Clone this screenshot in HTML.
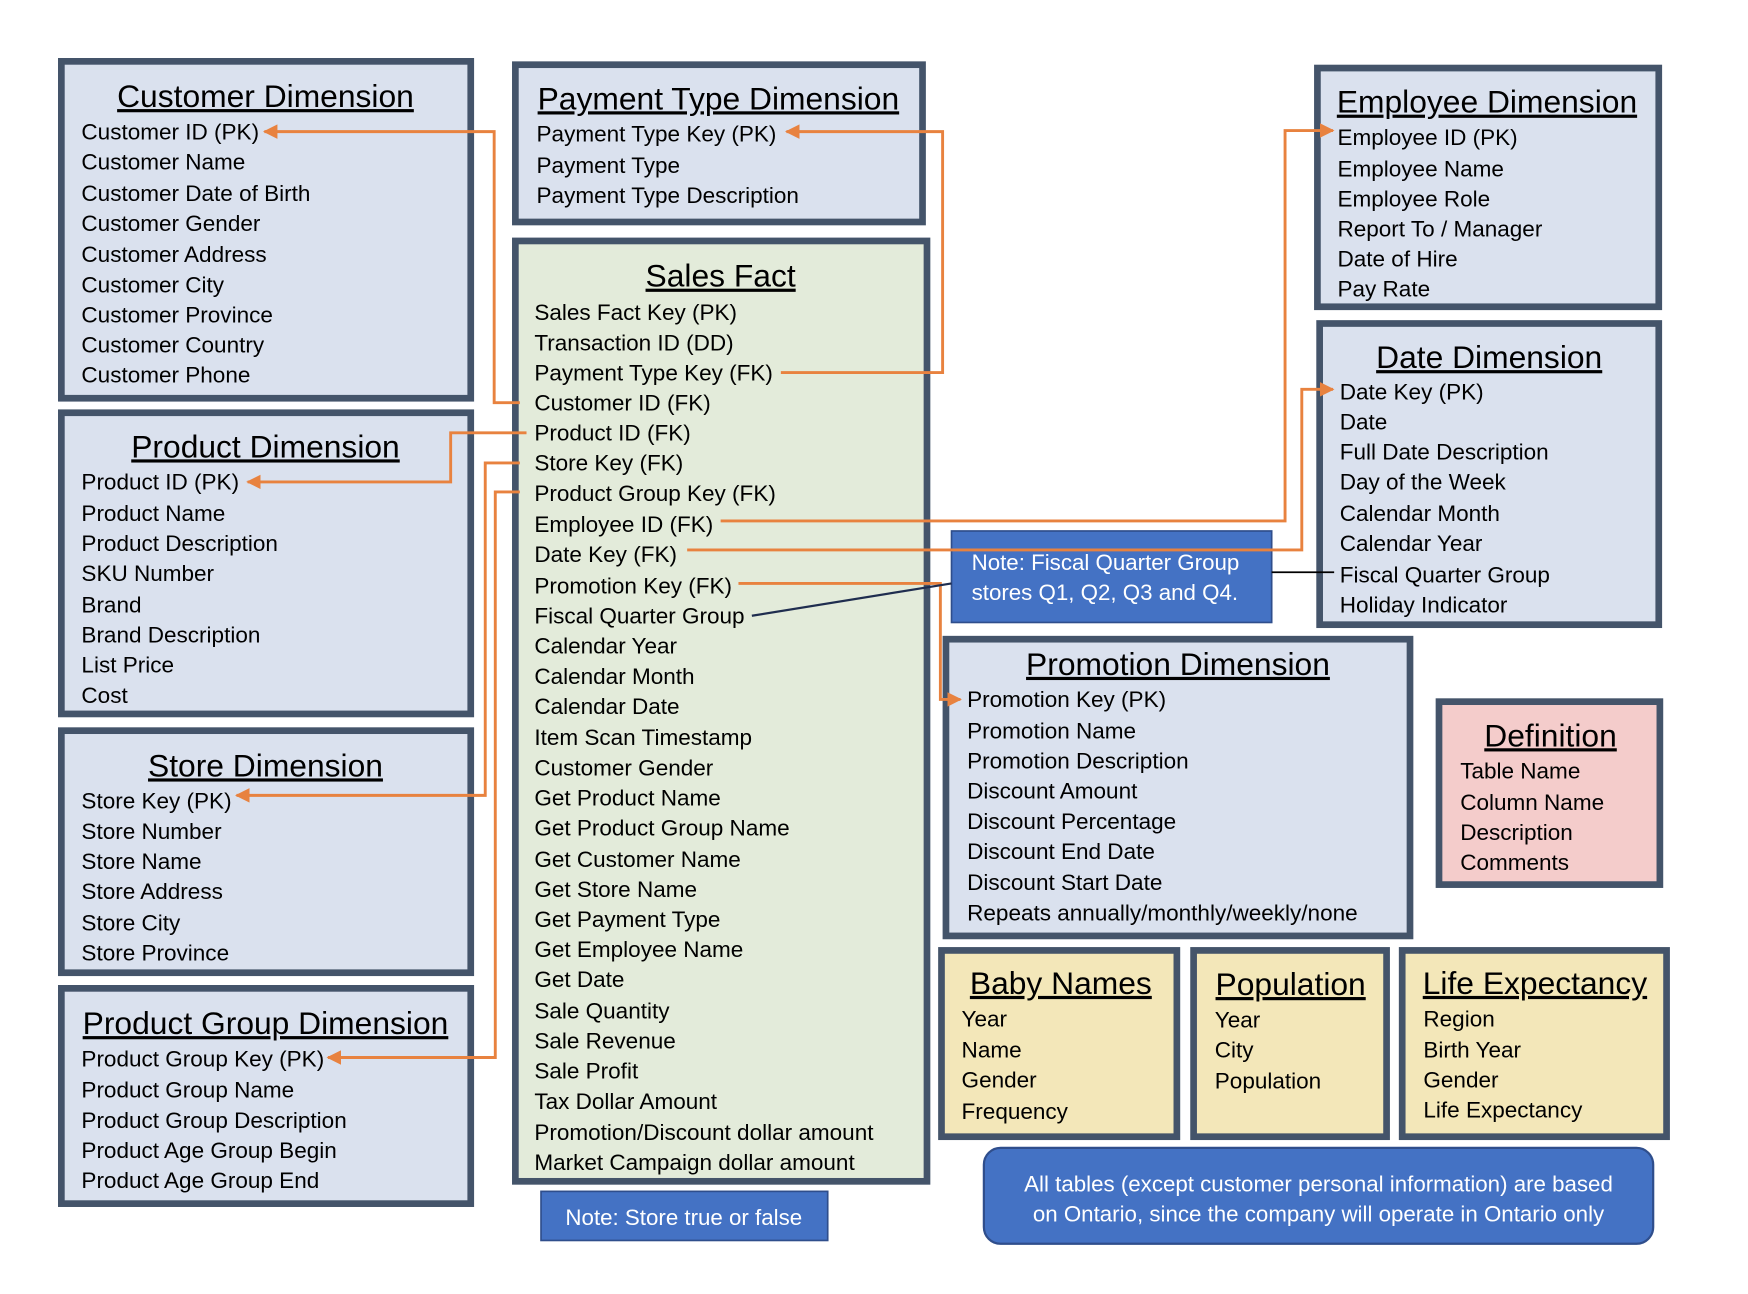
<!DOCTYPE html>
<html><head><meta charset="utf-8"><style>
html,body{margin:0;padding:0;background:#fff}
svg{display:block}
text{font-family:"Liberation Sans",sans-serif;fill:#000}
.r{font-size:20.2px}
.t{font-size:28.5px;text-decoration:underline;text-anchor:middle}
.w{fill:#fff;font-size:20px}
.box{stroke:#44546A;stroke-width:6}
.o{fill:none;stroke:#E8823F;stroke-width:2.6}
</style></head><body>
<svg width="1748" height="1294" viewBox="0 0 1567 1160" preserveAspectRatio="none" xmlns="http://www.w3.org/2000/svg">
<defs><marker id="a" viewBox="0 0 10 10" refX="9" refY="5" markerWidth="5" markerHeight="5" orient="auto-start-reverse"><path d="M0,0L10,5L0,10z" fill="#E8823F"/></marker></defs>
<rect width="1567" height="1160" fill="#fff"/>

<rect class="box" x="55" y="55" width="367" height="302" fill="#DAE1EE"/>
<text class="t" x="238" y="96">Customer Dimension</text>
<g class="r">
<text x="73" y="125">Customer ID (PK)</text><text x="73" y="152">Customer Name</text><text x="73" y="180">Customer Date of Birth</text><text x="73" y="207">Customer Gender</text><text x="73" y="235">Customer Address</text><text x="73" y="262">Customer City</text><text x="73" y="289">Customer Province</text><text x="73" y="316">Customer Country</text><text x="73" y="343">Customer Phone</text></g>

<rect class="box" x="55" y="370" width="367" height="270" fill="#DAE1EE"/>
<text class="t" x="238" y="410">Product Dimension</text>
<g class="r">
<text x="73" y="439">Product ID (PK)</text><text x="73" y="467">Product Name</text><text x="73" y="494">Product Description</text><text x="73" y="521">SKU Number</text><text x="73" y="549">Brand</text><text x="73" y="576">Brand Description</text><text x="73" y="603">List Price</text><text x="73" y="630">Cost</text></g>

<rect class="box" x="55" y="655" width="367" height="217" fill="#DAE1EE"/>
<text class="t" x="238" y="696">Store Dimension</text>
<g class="r">
<text x="73" y="725">Store Key (PK)</text><text x="73" y="752">Store Number</text><text x="73" y="779">Store Name</text><text x="73" y="806">Store Address</text><text x="73" y="834">Store City</text><text x="73" y="861">Store Province</text></g>

<rect class="box" x="55" y="886" width="367" height="193" fill="#DAE1EE"/>
<text class="t" x="238" y="927">Product Group Dimension</text>
<g class="r">
<text x="73" y="956">Product Group Key (PK)</text><text x="73" y="984">Product Group Name</text><text x="73" y="1011">Product Group Description</text><text x="73" y="1038">Product Age Group Begin</text><text x="73" y="1065">Product Age Group End</text></g>

<rect class="box" x="462" y="58" width="365" height="141" fill="#DAE1EE"/>
<text class="t" x="644" y="98">Payment Type Dimension</text>
<g class="r">
<text x="481" y="127">Payment Type Key (PK)</text><text x="481" y="155">Payment Type</text><text x="481" y="182">Payment Type Description</text></g>

<rect class="box" x="462" y="216" width="369" height="843" fill="#E3EBDA"/>
<text class="t" x="646" y="257">Sales Fact</text>
<g class="r">
<text x="479" y="287">Sales Fact Key (PK)</text><text x="479" y="314">Transaction ID (DD)</text><text x="479" y="341">Payment Type Key (FK)</text><text x="479" y="368">Customer ID (FK)</text><text x="479" y="395">Product ID (FK)</text><text x="479" y="422">Store Key (FK)</text><text x="479" y="449">Product Group Key (FK)</text><text x="479" y="477">Employee ID (FK)</text><text x="479" y="504">Date Key (FK)</text><text x="479" y="532">Promotion Key (FK)</text><text x="479" y="559">Fiscal Quarter Group</text><text x="479" y="586">Calendar Year</text><text x="479" y="613">Calendar Month</text><text x="479" y="640">Calendar Date</text><text x="479" y="668">Item Scan Timestamp</text><text x="479" y="695">Customer Gender</text><text x="479" y="722">Get Product Name</text><text x="479" y="749">Get Product Group Name</text><text x="479" y="777">Get Customer Name</text><text x="479" y="804">Get Store Name</text><text x="479" y="831">Get Payment Type</text><text x="479" y="858">Get Employee Name</text><text x="479" y="885">Get Date</text><text x="479" y="913">Sale Quantity</text><text x="479" y="940">Sale Revenue</text><text x="479" y="967">Sale Profit</text><text x="479" y="994">Tax Dollar Amount</text><text x="479" y="1022">Promotion/Discount dollar amount</text><text x="479" y="1049">Market Campaign dollar amount</text></g>

<rect x="485" y="1068" width="257" height="44" fill="#4472C4" stroke="#2F4E8C" stroke-width="1.5"/>
<text class="w" x="613" y="1098" text-anchor="middle">Note: Store true or false</text>

<rect class="box" x="1181" y="61" width="306" height="214" fill="#DAE1EE"/>
<text class="t" x="1333" y="101">Employee Dimension</text>
<g class="r">
<text x="1199" y="130">Employee ID (PK)</text><text x="1199" y="158">Employee Name</text><text x="1199" y="185">Employee Role</text><text x="1199" y="212">Report To / Manager</text><text x="1199" y="239">Date of Hire</text><text x="1199" y="266">Pay Rate</text></g>

<rect class="box" x="1183" y="290" width="304" height="270" fill="#DAE1EE"/>
<text class="t" x="1335" y="330">Date Dimension</text>
<g class="r">
<text x="1201" y="358">Date Key (PK)</text><text x="1201" y="385">Date</text><text x="1201" y="412">Full Date Description</text><text x="1201" y="439">Day of the Week</text><text x="1201" y="467">Calendar Month</text><text x="1201" y="494">Calendar Year</text><text x="1201" y="522">Fiscal Quarter Group</text><text x="1201" y="549">Holiday Indicator</text></g>

<rect x="853" y="476" width="287" height="82" fill="#4472C4" stroke="#2F4E8C" stroke-width="1.5"/>
<text class="w" x="871" y="511">Note: Fiscal Quarter Group</text>
<text class="w" x="871" y="538">stores Q1, Q2, Q3 and Q4.</text>

<rect class="box" x="848" y="573" width="416" height="266" fill="#DAE1EE"/>
<text class="t" x="1056" y="605">Promotion Dimension</text>
<g class="r">
<text x="867" y="634">Promotion Key (PK)</text><text x="867" y="662">Promotion Name</text><text x="867" y="689">Promotion Description</text><text x="867" y="716">Discount Amount</text><text x="867" y="743">Discount Percentage</text><text x="867" y="770">Discount End Date</text><text x="867" y="798">Discount Start Date</text><text x="867" y="825">Repeats annually/monthly/weekly/none</text></g>

<rect class="box" x="1290" y="629" width="198" height="164" fill="#F4CCCB"/>
<text class="t" x="1390" y="669">Definition</text>
<g class="r">
<text x="1309" y="698">Table Name</text><text x="1309" y="726">Column Name</text><text x="1309" y="753">Description</text><text x="1309" y="780">Comments</text></g>

<rect class="box" x="844" y="852" width="211" height="167" fill="#F3E7B9"/>
<text class="t" x="951" y="891">Baby Names</text>
<g class="r"><text x="862" y="920">Year</text><text x="862" y="948">Name</text><text x="862" y="975">Gender</text><text x="862" y="1003">Frequency</text></g>
<rect class="box" x="1070" y="852" width="173" height="167" fill="#F3E7B9"/>
<text class="t" x="1157" y="892">Population</text>
<g class="r"><text x="1089" y="921">Year</text><text x="1089" y="948">City</text><text x="1089" y="976">Population</text></g>
<rect class="box" x="1257" y="852" width="237" height="167" fill="#F3E7B9"/>
<text class="t" x="1376" y="891">Life Expectancy</text>
<g class="r"><text x="1276" y="920">Region</text><text x="1276" y="948">Birth Year</text><text x="1276" y="975">Gender</text><text x="1276" y="1002">Life Expectancy</text></g>

<rect x="882" y="1029" width="600" height="86" rx="15" fill="#4472C4" stroke="#2F4E8C" stroke-width="2"/>
<text class="w" x="1182" y="1068" text-anchor="middle">All tables (except customer personal information) are based</text>
<text class="w" x="1182" y="1095" text-anchor="middle">on Ontario, since the company will operate in Ontario only</text>

<path class="o" d="M466,361H443V118H237" marker-end="url(#a)"/>
<path class="o" d="M700,334H845V118H705" marker-end="url(#a)"/>
<path class="o" d="M472,388H404V432H222" marker-end="url(#a)"/>
<path class="o" d="M466,415H435V713H212" marker-end="url(#a)"/>
<path class="o" d="M466,441H444V948H294" marker-end="url(#a)"/>
<path class="o" d="M646,467H1152V117H1195" marker-end="url(#a)"/>
<path class="o" d="M616,493H1167V349H1195" marker-end="url(#a)"/>
<path class="o" d="M662,523H843V627H861" marker-end="url(#a)"/>
<path d="M674,552L853,523" stroke="#1F2D4F" stroke-width="2" fill="none"/>
<path d="M1140,513H1196" stroke="#000" stroke-width="1.5" fill="none"/>
</svg>
</body></html>
